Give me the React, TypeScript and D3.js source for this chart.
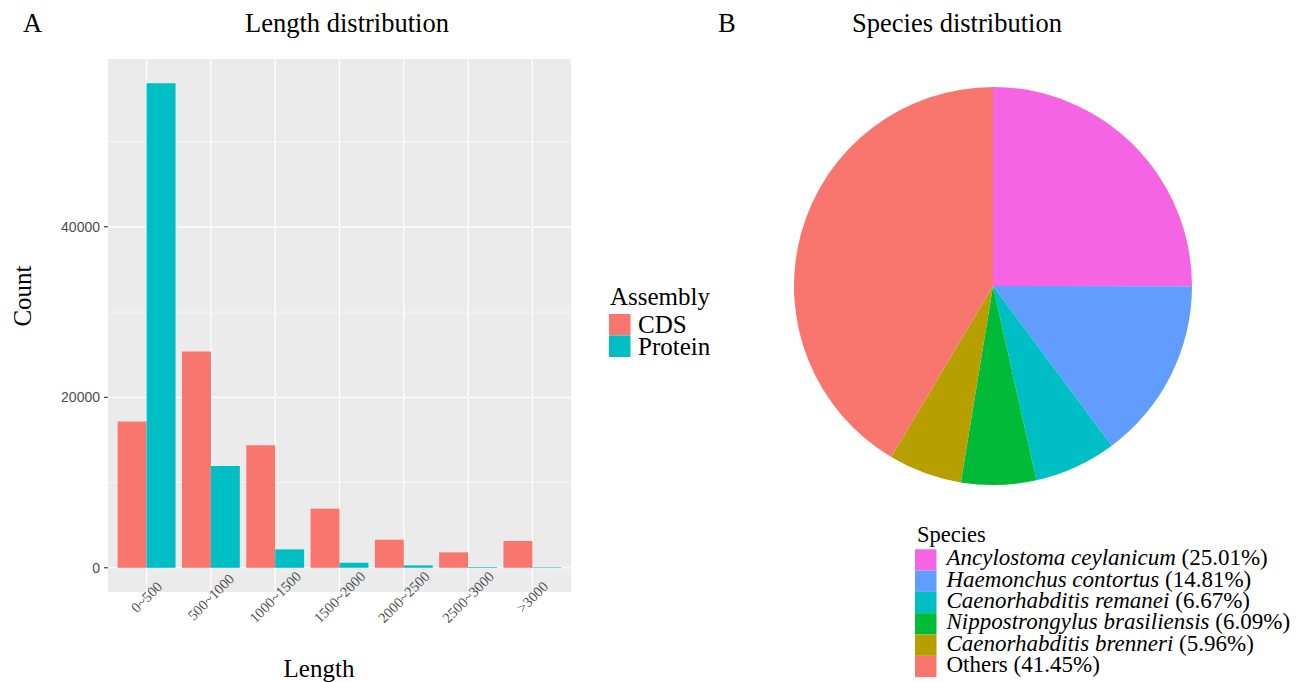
import React from 'react';
import * as d3 from 'd3';

// bar chart data
const lengthBins = ['0~500', '500~1000', '1000~1500', '1500~2000', '2000~2500', '2500~3000', '>3000'];
const assemblies = ['CDS', 'Protein'];
const cdsCounts = [17150, 25370, 14370, 6930, 3290, 1810, 3140];
const proteinCounts = [56840, 11940, 2160, 590, 280, 80, 60];
const countTicks = [0, 20000, 40000];
const countMinorTicks = [10000, 30000, 50000];

// pie chart data
const species = [
  'Ancylostoma ceylanicum',
  'Haemonchus contortus',
  'Caenorhabditis remanei',
  'Nippostrongylus brasiliensis',
  'Caenorhabditis brenneri',
  'Others',
];
const speciesPercent = [25.01, 14.81, 6.67, 6.09, 5.96, 41.45];
const speciesItalic = [true, true, true, true, true, false];

const assemblyColors = ['#F8766D', '#00BFC4'];
const speciesColors = ['#F564E3', '#619CFF', '#00BFC4', '#00BA38', '#B79F00', '#F8766D'];

const serif = '"Liberation Serif", "Times New Roman", serif';
const sans = '"Liberation Sans", Arial, sans-serif';

const App = () => {
  const width = 1298;
  const height = 682;

  // panel A
  const panel = { left: 108, right: 571, top: 59, bottom: 592 };
  const maxCount = d3.max(proteinCounts) as number;
  const yScale = d3
    .scaleLinear()
    .domain([-0.05 * maxCount, maxCount * 1.05])
    .range([panel.bottom, panel.top]);
  const xScale = d3
    .scaleBand()
    .domain(lengthBins)
    .range([panel.left, panel.right])
    .paddingInner(0.1)
    .paddingOuter(0.15);
  const subScale = d3.scaleBand().domain(assemblies).range([0, xScale.bandwidth()]);
  const series = [cdsCounts, proteinCounts];
  const center = (c: string) => (xScale(c) as number) + xScale.bandwidth() / 2;

  // panel B
  const pieCx = 993;
  const pieCy = 286;
  const pieR = 199;
  const pie = d3.pie<number>().sort(null).value((d) => d);
  const arcs = pie(speciesPercent);
  const arc = d3.arc<d3.PieArcDatum<number>>().innerRadius(0).outerRadius(pieR);

  return (
    <svg width={width} height={height} style={{ position: 'absolute', left: 0, top: 0, background: '#fff' }}>
      {/* ---------- A: Length distribution ---------- */}
      <text x={23} y={32} fontFamily={serif} fontSize={26.5}>A</text>
      <text x={347} y={32} fontFamily={serif} fontSize={26.5} textAnchor="middle">Length distribution</text>

      <rect x={panel.left} y={panel.top} width={panel.right - panel.left} height={panel.bottom - panel.top} fill="#EBEBEB" />
      {countMinorTicks.map((t) => (
        <line key={'mn' + t} x1={panel.left} x2={panel.right} y1={yScale(t)} y2={yScale(t)} stroke="#fff" strokeWidth={0.6} />
      ))}
      {countTicks.map((t) => (
        <line key={'mj' + t} x1={panel.left} x2={panel.right} y1={yScale(t)} y2={yScale(t)} stroke="#fff" strokeWidth={1.2} />
      ))}
      {lengthBins.map((c) => (
        <line key={'v' + c} x1={center(c)} x2={center(c)} y1={panel.top} y2={panel.bottom} stroke="#fff" strokeWidth={1.2} />
      ))}

      {lengthBins.map((c, i) => (
        <g key={'b' + c}>
          {assemblies.map((a, j) => {
            const v = series[j][i];
            return (
              <rect
                key={a}
                x={(xScale(c) as number) + (subScale(a) as number)}
                y={yScale(v)}
                width={subScale.bandwidth()}
                height={yScale(0) - yScale(v)}
                fill={assemblyColors[j]}
              />
            );
          })}
        </g>
      ))}

      {countTicks.map((t) => (
        <g key={'yt' + t}>
          <line x1={panel.left - 4} x2={panel.left} y1={yScale(t)} y2={yScale(t)} stroke="#333" strokeWidth={1.1} />
          <text x={panel.left - 8} y={yScale(t) + 5} fontFamily={sans} fontSize={14} fill="#4d4d4d" textAnchor="end">
            {t}
          </text>
        </g>
      ))}
      {lengthBins.map((c) => (
        <text
          key={'xt' + c}
          transform={`translate(${center(c)},597) rotate(-45)`}
          fontFamily={serif}
          fontSize={14.5}
          fill="#4d4d4d"
          textAnchor="middle"
          dominantBaseline="central"
        >
          {c}
        </text>
      ))}

      <text transform="translate(31,296) rotate(-90)" fontFamily={serif} fontSize={25} textAnchor="middle">Count</text>
      <text x={319} y={677} fontFamily={serif} fontSize={25} textAnchor="middle">Length</text>

      <text x={610} y={305} fontFamily={serif} fontSize={25}>Assembly</text>
      {assemblies.map((a, j) => (
        <g key={'lg' + a}>
          <rect x={609} y={314 + j * 21.5} width={21.5} height={21.5} fill={assemblyColors[j]} />
          <text x={638} y={314 + j * 21.5 + 19} fontFamily={serif} fontSize={25}>{a}</text>
        </g>
      ))}

      {/* ---------- B: Species distribution ---------- */}
      <text x={718} y={32} fontFamily={serif} fontSize={26.5}>B</text>
      <text x={957} y={32} fontFamily={serif} fontSize={26.5} textAnchor="middle">Species distribution</text>

      <g transform={`translate(${pieCx},${pieCy})`}>
        {arcs.map((d, i) => (
          <path key={species[i]} d={arc(d) as string} fill={speciesColors[i]} />
        ))}
      </g>

      <text x={917} y={542} fontFamily={serif} fontSize={22.5}>Species</text>
      {species.map((s, i) => {
        const top = 549.3 + i * 21.3;
        return (
          <g key={'sl' + s}>
            <rect x={915} y={top} width={21.5} height={21.3} fill={speciesColors[i]} />
            <text x={946.5} y={top + 16} fontFamily={serif} fontSize={23}>
              <tspan fontStyle={speciesItalic[i] ? 'italic' : 'normal'}>{s}</tspan>
              <tspan> ({speciesPercent[i].toFixed(2)}%)</tspan>
            </text>
          </g>
        );
      })}
    </svg>
  );
};

export default App;
